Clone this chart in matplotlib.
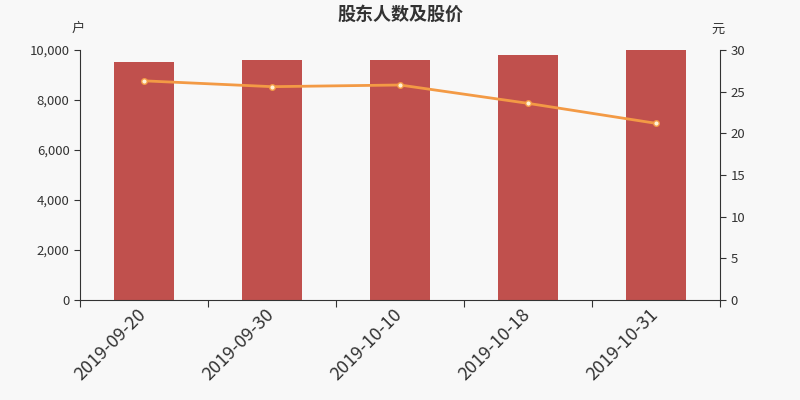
import matplotlib.pyplot as plt
import matplotlib.transforms as mtransforms
import numpy as np

plt.rcParams['font.family'] = ['Noto Sans CJK SC', 'DejaVu Sans']

# data
dates = ['2019-09-20', '2019-09-30', '2019-10-10', '2019-10-18', '2019-10-31']
holders = [9530, 9600, 9590, 9810, 10000]
price = [26.3, 25.6, 25.8, 23.6, 21.2]

bg = '#f8f8f8'
txt = '#333333'

fig = plt.figure(figsize=(8, 4), dpi=100, facecolor=bg)
ax = fig.add_axes([0.1, 0.25, 0.8, 0.625], facecolor=bg)
x = np.arange(len(dates))

ax.bar(x, holders, width=0.47, color='#c0504d', zorder=2)
ax.set_xlim(-0.5, len(dates) - 0.5)
ax.set_ylim(0, 10000)
ax.set_yticks(np.arange(0, 10001, 2000))
ax.yaxis.set_major_formatter(plt.FuncFormatter(lambda v, p: f'{int(v):,}'))
ax.set_xticks(np.arange(-0.5, len(dates), 1.0))
ax.set_xticklabels([])
ax.set_xticks(x, minor=True)
ax.set_xticklabels(dates, minor=True, rotation=45, ha='right', rotation_mode='anchor',
                   fontsize=13, color=txt)
ax.tick_params(axis='x', which='minor', length=0, pad=4)
ax.tick_params(axis='x', which='major', length=5, color=txt)
ax.tick_params(axis='y', labelsize=9.5, colors=txt, length=4)
# nudge the date labels a little to the left
shift = mtransforms.ScaledTranslation(-5 / 72, 0, fig.dpi_scale_trans)
for lab in ax.get_xticklabels(minor=True):
    lab.set_transform(lab.get_transform() + shift)
for s in ['top', 'right']:
    ax.spines[s].set_visible(False)
ax.spines['left'].set_color(txt)
ax.spines['bottom'].set_color(txt)

ax2 = ax.twinx()
ax2.plot(x, price, color='#f39a45', lw=2, marker='o', markersize=4,
         markerfacecolor='#fff3d6', markeredgecolor='#f39a45', markeredgewidth=1, zorder=3)
ax2.set_ylim(0, 30)
ax2.set_yticks(np.arange(0, 31, 5))
ax2.tick_params(axis='y', labelsize=9.5, colors=txt, length=4)
for s in ['top', 'left', 'bottom']:
    ax2.spines[s].set_visible(False)
ax2.spines['right'].set_color(txt)

fig.text(0.5, 0.965, '股东人数及股价', ha='center', va='center', fontsize=13,
         fontweight='bold', color=txt)
fig.text(0.098, 0.928, '户', ha='center', va='center', fontsize=9.5, color=txt)
fig.text(0.898, 0.928, '元', ha='center', va='center', fontsize=9.5, color=txt)

fig.savefig('out.png', dpi=100, facecolor=bg)
